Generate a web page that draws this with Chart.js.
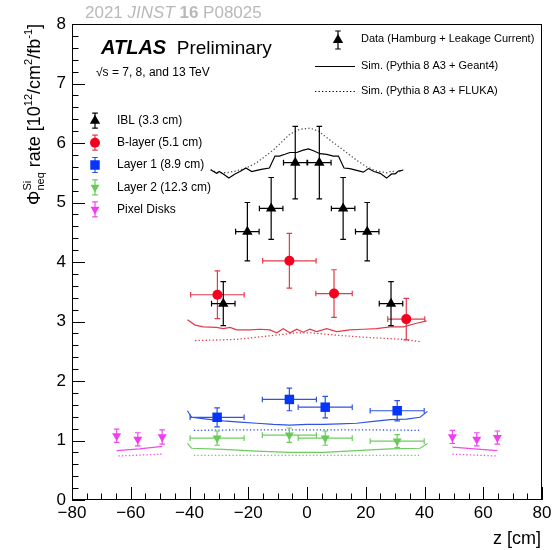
<!DOCTYPE html>
<html><head><meta charset="utf-8">
<script src="https://cdn.jsdelivr.net/npm/chart.js@4.4.1/dist/chart.umd.min.js"></script>
<style>html,body{margin:0;padding:0;background:#fff}#wrap{width:560px;height:550px;position:relative}</style>
</head><body><div id="wrap"><canvas id="c" width="560" height="550"></canvas></div>
<script>
// ---------------- data ----------------
const xTicks = [-80,-60,-40,-20,0,20,40,60,80];
const yTicks = [0,1,2,3,4,5,6,7,8];

// Data (Hamburg + Leakage Current)
const iblZ    = [-28.5,-20.3,-12.2,-4.0,4.2,12.3,20.5,28.6];
const iblVal  = [3.30,4.51,4.90,5.67,5.67,4.90,4.51,3.30];
const iblZErr = [4,4,4,4,4,4,4,4];
const iblErr  = [0.37,0.49,0.52,0.61,0.61,0.52,0.49,0.37];

const blZ    = [-30.5,-6.0,9.2,33.8];
const blVal  = [3.45,4.02,3.47,3.04];
const blZErr = [9.1,9.1,6.2,6.3];
const blErr  = [0.40,0.46,0.40,0.35];

const l1Z    = [-30.6,-6.0,6.2,30.7];
const l1Val  = [1.39,1.69,1.56,1.50];
const l1ZErr = [9.2,9.2,9.2,9.2];
const l1Err  = [0.16,0.19,0.18,0.17];

const l2Z    = [-30.6,-6.0,6.2,30.7];
const l2Val  = [1.04,1.09,1.04,0.99];
const l2ZErr = [9.2,9.2,9.2,9.2];
const l2Err  = [0.12,0.12,0.12,0.11];

const pdZ    = [-64.8,-57.6,-49.3,49.5,57.8,64.8];
const pdVal  = [1.08,1.02,1.06,1.06,1.02,1.05];
const pdZErr = [0,0,0,0,0,0];
const pdErr  = [0.11,0.11,0.12,0.11,0.11,0.11];

// Sim. (Pythia 8 A3 + Geant4) — solid
const iblG4Z = [-32.8,-30.8,-29.9,-28.5,-26.6,-24.5,-22.8,-20.8,-18.8,-17.1,-15.1,-12.8,-10.9,-9.4,-7.5,-5.8,-3.5,-1.3,0.5,2.2,4.4,6.7,9.0,10.7,12.6,14.6,16.9,19.2,20.9,22.8,24.9,27.1,28.8,30.0,31.1,32.6];
const iblG4V = [5.55,5.49,5.52,5.48,5.41,5.48,5.52,5.58,5.52,5.54,5.56,5.58,5.78,5.78,5.81,5.84,5.84,5.88,5.90,5.87,5.82,5.81,5.78,5.78,5.58,5.57,5.54,5.51,5.57,5.52,5.49,5.41,5.48,5.48,5.53,5.54];
const blG4Z = [-40.7,-38.1,-35.3,-30.8,-28.5,-26.2,-23.9,-19.4,-16.0,-12.6,-10.3,-8.1,-5.8,-3.5,-1.3,1.0,3.3,6.7,10.1,14.6,19.2,23.7,28.3,32.8,37.3,40.7];
const blG4V = [3.03,2.94,2.91,2.90,2.88,2.90,2.86,2.86,2.87,2.86,2.81,2.88,2.81,2.87,2.82,2.87,2.83,2.88,2.83,2.86,2.87,2.88,2.91,2.91,2.97,3.01];
const l1G4Z = [-40.7,-39.3,-34.2,-28.5,-22.8,-17.1,-11.5,-5.8,-0.1,5.6,11.2,16.9,22.6,28.3,33.9,38.5,41.0];
const l1G4V = [1.50,1.39,1.36,1.33,1.31,1.29,1.27,1.26,1.27,1.27,1.28,1.29,1.32,1.35,1.36,1.39,1.49];
const l2G4Z = [-40.7,-39.3,-28.5,-17.1,-5.8,5.6,16.9,28.3,38.5,41.0];
const l2G4V = [0.95,0.87,0.85,0.82,0.80,0.80,0.83,0.86,0.87,0.95];
const pdG4Z = [-64.8,-57.0,-49.3,0,49.5,57.0,64.8];
const pdG4V = [0.83,0.86,0.90,null,0.89,0.86,0.83];

// Sim. (Pythia 8 A3 + FLUKA) — dotted
const iblFlZ = [-32.8,-30.5,-27.4,-24.0,-21.1,-17.1,-11.5,-5.8,-2.4,1.0,3.9,7.8,12.4,16.9,20.3,23.7,27.1,29.0,30.5,32.8];
const iblFlV = [5.55,5.50,5.50,5.53,5.57,5.67,5.88,6.15,6.23,6.25,6.20,6.05,5.88,5.71,5.60,5.53,5.50,5.53,5.50,5.55];
const blFlZ = [-38.1,-30.0,-23.9,-12.6,-3.5,1.0,10.1,21.0,32.8,38.5];
const blFlV = [2.68,2.69,2.70,2.76,2.81,2.81,2.77,2.73,2.70,2.66];
const l1FlZ = [-38.5,-20.0,0.0,20.0,38.5];
const l1FlV = [1.17,1.18,1.18,1.18,1.17];
const l2FlZ = [-38.5,-20.0,0.0,20.0,38.5];
const l2FlV = [0.75,0.75,0.75,0.75,0.75];
const pdFlZ = [-64.2,-49.3,0,49.5,64.5];
const pdFlV = [0.74,0.77,null,0.77,0.74];

// ---------------- helpers ----------------
const FONT = "'Liberation Sans', Arial, Helvetica, sans-serif";
const pts = (zs, vs) => zs.map((z, i) => ({x: z, y: vs[i]}));
const C = {
  black: '#000000',
  red: '#f5001e', redL: '#e33a4a',
  blue: '#0536f7', blueL: '#2f52e6',
  green: '#66cc55', greenL: '#6ecb60',
  mag: '#f23cf2', magL: '#ee4aee'
};

function simLine(label, zs, vs, color, dotted) {
  return {
    type: 'line', label, data: pts(zs, vs), borderColor: color, borderWidth: dotted ? 1.3 : 1.2,
    borderDash: dotted ? [1.3, 2.2] : [], pointRadius: 0, tension: 0, spanGaps: false, order: 20, fill: false
  };
}
function dataSet(label, zs, vs, zErr, yErr, color, errColor, style, radius, rotation, order) {
  return {
    type: 'scatter', label, data: pts(zs, vs), xErr: zErr, yErr: yErr, errColor,
    pointStyle: style, pointRadius: radius, pointRotation: rotation, backgroundColor: color,
    borderColor: color, borderWidth: 0, order
  };
}

// error bars beneath each marker set
const errorBars = {
  id: 'errorBars',
  beforeDatasetDraw(chart, args) {
    const ds = chart.data.datasets[args.index];
    if (!ds.yErr) return;
    const ctx = chart.ctx, xs = chart.scales.x, ys = chart.scales.y;
    ctx.save();
    ctx.strokeStyle = ds.errColor; ctx.lineWidth = 1.2;
    ctx.beginPath();
    const cap = 2.8;
    ds.data.forEach((p, i) => {
      const px = xs.getPixelForValue(p.x), py = ys.getPixelForValue(p.y);
      const ey = ds.yErr[i], ex = ds.xErr ? ds.xErr[i] : 0;
      if (ey > 0) {
        const y1 = ys.getPixelForValue(p.y + ey), y2 = ys.getPixelForValue(p.y - ey);
        ctx.moveTo(px, y1); ctx.lineTo(px, y2);
        ctx.moveTo(px - cap, y1); ctx.lineTo(px + cap, y1);
        ctx.moveTo(px - cap, y2); ctx.lineTo(px + cap, y2);
      }
      if (ex > 0) {
        const x1 = xs.getPixelForValue(p.x - ex), x2 = xs.getPixelForValue(p.x + ex);
        ctx.moveTo(x1, py); ctx.lineTo(x2, py);
        ctx.moveTo(x1, py - cap); ctx.lineTo(x1, py + cap);
        ctx.moveTo(x2, py - cap); ctx.lineTo(x2, py + cap);
      }
    });
    ctx.stroke();
    ctx.restore();
  }
};

// ROOT-like frame with inward ticks
const frameTicks = {
  id: 'frameTicks',
  afterDatasetsDraw(chart) {
    const ctx = chart.ctx, a = chart.chartArea, xs = chart.scales.x, ys = chart.scales.y;
    ctx.save();
    ctx.strokeStyle = '#000'; ctx.lineWidth = 1;
    ctx.strokeRect(Math.round(a.left) + 0.5, Math.round(a.top) + 0.5, Math.round(a.right - a.left) - 1, Math.round(a.bottom - a.top) - 1);
    ctx.beginPath();
    const xMinor = 5, xMajor = 20, yMinor = 0.2;
    for (let v = xs.min; v <= xs.max + 1e-6; v += xMinor) {
      const px = Math.round(xs.getPixelForValue(v)) + 0.5;
      const major = Math.abs(v / xMajor - Math.round(v / xMajor)) < 1e-6;
      const L = major ? 13 : 6.5;
      ctx.moveTo(px, a.bottom); ctx.lineTo(px, a.bottom - L);
    }
    for (let k = 0; k * yMinor <= ys.max - ys.min + 1e-6; k++) {
      const v = ys.min + k * yMinor;
      const py = Math.round(ys.getPixelForValue(v)) + 0.5;
      const major = k % 5 === 0;
      const L = major ? 13 : 6.5;
      ctx.moveTo(a.left, py); ctx.lineTo(a.left + L, py);
    }
    ctx.stroke();
    ctx.restore();
  }
};

function rich(ctx, parts, x, y, align) {
  let w = 0;
  parts.forEach(p => { ctx.font = p.f; p.w = ctx.measureText(p.t).width; if (!p.stack) w += p.w; });
  let cx = align === 'right' ? x - w : x;
  parts.forEach(p => {
    ctx.font = p.f; ctx.fillText(p.t, cx, y + (p.dy || 0));
    if (!p.stack) cx += p.w;
  });
}

function legendMarker(ctx, x, y, style, r, rot, color, errColor, halfBar) {
  ctx.save();
  ctx.strokeStyle = errColor; ctx.lineWidth = 1.2;
  ctx.beginPath();
  ctx.moveTo(x, y - halfBar); ctx.lineTo(x, y + halfBar);
  ctx.moveTo(x - 2.8, y - halfBar); ctx.lineTo(x + 2.8, y - halfBar);
  ctx.moveTo(x - 2.8, y + halfBar); ctx.lineTo(x + 2.8, y + halfBar);
  ctx.stroke();
  ctx.fillStyle = color; ctx.strokeStyle = color; ctx.lineWidth = 0;
  Chart.helpers.drawPoint(ctx, {pointStyle: style, radius: r, rotation: rot, borderWidth: 0}, x, y);
  ctx.restore();
}

const annotations = {
  id: 'annotations',
  afterDraw(chart) {
    const ctx = chart.ctx;
    ctx.save();
    ctx.textBaseline = 'alphabetic'; ctx.textAlign = 'left';
    // journal reference
    ctx.fillStyle = '#b9b9b9';
    rich(ctx, [
      {t: '2021 ', f: `17px ${FONT}`},
      {t: 'JINST', f: `italic 17px ${FONT}`},
      {t: ' ', f: `17px ${FONT}`},
      {t: '16', f: `bold 17px ${FONT}`},
      {t: ' P08025', f: `17px ${FONT}`}
    ], 85, 18);
    // ATLAS label
    ctx.fillStyle = '#000';
    rich(ctx, [
      {t: 'ATLAS', f: `italic bold 20px ${FONT}`},
      {t: '  Preliminary', f: `19px ${FONT}`}
    ], 101, 54);
    ctx.font = `12px ${FONT}`;
    ctx.fillText('\u221As = 7, 8, and 13 TeV', 96, 76);

    // right legend
    ctx.font = `11px ${FONT}`;
    ctx.textBaseline = 'middle';
    legendMarker(ctx, 338, 40, 'triangle', 6, 0, '#000', '#000', 9);
    ctx.fillStyle = '#000';
    ctx.fillText('Data (Hamburg + Leakage Current)', 361, 39);
    ctx.strokeStyle = '#000'; ctx.lineWidth = 1.2;
    ctx.beginPath(); ctx.moveTo(315, 66.5); ctx.lineTo(355, 66.5); ctx.stroke();
    ctx.fillText('Sim. (Pythia 8 A3 + Geant4)', 361, 66);
    ctx.setLineDash([1.3, 2.2]);
    ctx.beginPath(); ctx.moveTo(315, 91.5); ctx.lineTo(355, 91.5); ctx.stroke();
    ctx.setLineDash([]);
    ctx.fillText('Sim. (Pythia 8 A3 + FLUKA)', 361, 91);

    // left legend
    const items = [
      ['IBL (3.3 cm)', 'triangle', 6, 0, C.black, C.black, 120.7],
      ['B-layer (5.1 cm)', 'circle', 5, 0, C.red, C.redL, 142.7],
      ['Layer 1 (8.9 cm)', 'rect', 6.7, 0, C.blue, C.blueL, 165],
      ['Layer 2 (12.3 cm)', 'triangle', 5.2, 180, C.green, C.greenL, 187.3],
      ['Pixel Disks', 'triangle', 5.2, 180, C.mag, C.magL, 209.3]
    ];
    items.forEach(it => {
      legendMarker(ctx, 95, it[6], it[1], it[2], it[3], it[4], it[5], 7.5);
      ctx.fillStyle = '#000';
      ctx.font = `12px ${FONT}`;
      ctx.fillText(it[0], 117, it[6]);
    });

    // x-axis title
    ctx.textBaseline = 'alphabetic';
    ctx.font = `18px ${FONT}`;
    ctx.textAlign = 'right';
    ctx.fillText('z [cm]', 541, 544);
    ctx.textAlign = 'left';

    // y-axis title (rotated)
    ctx.translate(40, 24);
    ctx.rotate(-Math.PI / 2);
    rich(ctx, [
      {t: '\u03A6', f: `18px ${FONT}`},
      {t: 'Si', f: `11px ${FONT}`, dy: -9, stack: true},
      {t: 'neq', f: `11px ${FONT}`, dy: 4},
      {t: ' rate [10', f: `18px ${FONT}`},
      {t: '12', f: `11px ${FONT}`, dy: -8},
      {t: '/cm', f: `18px ${FONT}`},
      {t: '2', f: `11px ${FONT}`, dy: -8},
      {t: '/fb', f: `18px ${FONT}`},
      {t: '-1', f: `11px ${FONT}`, dy: -8},
      {t: ']', f: `18px ${FONT}`}
    ], 0, 0, 'right');
    ctx.restore();
  }
};

const datasets = [
  dataSet('IBL (3.3 cm)', iblZ, iblVal, iblZErr, iblErr, C.black, C.black, 'triangle', 6, 0, 1),
  dataSet('B-layer (5.1 cm)', blZ, blVal, blZErr, blErr, C.red, C.redL, 'circle', 5, 0, 2),
  dataSet('Layer 1 (8.9 cm)', l1Z, l1Val, l1ZErr, l1Err, C.blue, C.blueL, 'rect', 6.7, 0, 3),
  dataSet('Layer 2 (12.3 cm)', l2Z, l2Val, l2ZErr, l2Err, C.green, C.greenL, 'triangle', 5.2, 180, 4),
  dataSet('Pixel Disks', pdZ, pdVal, pdZErr, pdErr, C.mag, C.magL, 'triangle', 5.2, 180, 5),
  simLine('IBL Geant4', iblG4Z, iblG4V, C.black, false),
  simLine('IBL FLUKA', iblFlZ, iblFlV, '#555555', true),
  simLine('B-layer Geant4', blG4Z, blG4V, C.redL, false),
  simLine('B-layer FLUKA', blFlZ, blFlV, C.redL, true),
  simLine('Layer 1 Geant4', l1G4Z, l1G4V, C.blueL, false),
  simLine('Layer 1 FLUKA', l1FlZ, l1FlV, C.blueL, true),
  simLine('Layer 2 Geant4', l2G4Z, l2G4V, C.greenL, false),
  simLine('Layer 2 FLUKA', l2FlZ, l2FlV, C.greenL, true),
  simLine('Disks Geant4', pdG4Z, pdG4V, C.magL, false),
  simLine('Disks FLUKA', pdFlZ, pdFlV, C.magL, true)
];

const minus = v => String(v).replace('-', '\u2212');

new Chart(document.getElementById('c'), {
  type: 'scatter',
  data: {datasets},
  options: {
    responsive: false, animation: false, devicePixelRatio: 1,
    layout: {padding: {left: 0, top: 24, right: 18, bottom: 0}},
    plugins: {legend: {display: false}, tooltip: {enabled: false}},
    scales: {
      x: {
        type: 'linear', min: xTicks[0], max: xTicks[xTicks.length - 1],
        afterBuildTicks: s => { s.ticks = xTicks.map(v => ({value: v})); },
        afterFit: s => { s.height = 50; },
        grid: {display: false, drawTicks: false}, border: {display: false},
        ticks: {color: '#000', font: {family: FONT, size: 17}, padding: 3, maxRotation: 0, autoSkip: false, callback: v => minus(v)}
      },
      y: {
        type: 'linear', min: yTicks[0], max: yTicks[yTicks.length - 1],
        afterBuildTicks: s => { s.ticks = yTicks.map(v => ({value: v})); },
        afterFit: s => { s.width = 72; },
        grid: {display: false, drawTicks: false}, border: {display: false},
        ticks: {color: '#000', font: {family: FONT, size: 17}, padding: 6, autoSkip: false}
      }
    }
  },
  plugins: [errorBars, frameTicks, annotations]
});
</script>
</body></html>
